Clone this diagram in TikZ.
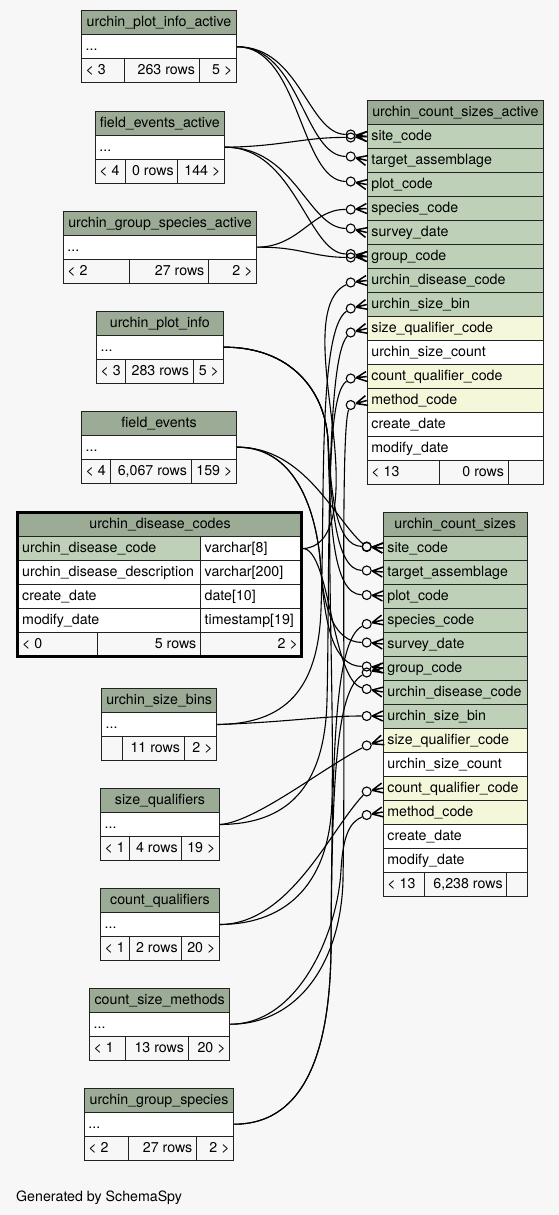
\documentclass[tikz,border=0pt]{standalone}
\usepackage{fontspec}
\setmainfont{TeX Gyre Heros}
\usetikzlibrary{calc}
\definecolor{hdr}{HTML}{9BAB96}
\definecolor{grn}{HTML}{BED1B8}
\definecolor{yel}{HTML}{F4F7DA}
\definecolor{bgc}{HTML}{F7F7F7}
\definecolor{bordc}{HTML}{222222}
\definecolor{ftc}{HTML}{F7F7F7}
\tikzset{
  box/.style={rectangle,draw=bordc,line width=1pt,inner sep=0pt,minimum height=24pt},
  txt/.style={inner sep=0pt,font=\fontsize{14.2}{17}\selectfont,text=black},
  fk/.style={draw=black,line width=1.1pt},
  odot/.style={circle,draw=black,line width=1.1pt,minimum size=9pt,inner sep=0pt},
  crowl/.style={draw=black,line width=1.5pt},
}
\newcommand\cellbox[5]{\node[box,fill=#5,minimum width=#4 pt,anchor=north west] (#1) at (#2,#3) {};}
\newcommand\ltext[2]{\node[txt,anchor=base west] (#1-t) at ([shift={(4.5pt,-4pt)}]#1.west) {#2};}
\newcommand\rtext[2]{\node[txt,anchor=base east] (#1-t) at ([shift={(-4.5pt,-4pt)}]#1.east) {#2};}
\newcommand\ctext[2]{\node[txt,anchor=base] (#1-t) at ([yshift=-4pt]#1.center) {#2};}
\newcommand\stab[9]{%
  \pgfmathsetmacro\sw{#3-#2}\pgfmathsetmacro\wa{#6-#2}\pgfmathsetmacro\wb{#7-#6}\pgfmathsetmacro\wc{#3-#7}%
  \pgfmathsetmacro\ya{#4+24}\pgfmathsetmacro\yb{#4+48}%
  \cellbox{#1-h}{#2}{#4}{\sw}{hdr}\ctext{#1-h}{#5}%
  \cellbox{#1}{#2}{\ya}{\sw}{white}\ltext{#1}{...}%
  \cellbox{#1-fa}{#2}{\yb}{\wa}{ftc}\ltext{#1-fa}{#8}%
  \cellbox{#1-fb}{#6}{\yb}{\wb}{ftc}\rtext{#1-fb}{#9}%
  \cellbox{#1-fc}{#7}{\yb}{\wc}{ftc}\rtext{#1-fc}}
\newcommand\btab[5]{%
  \pgfmathsetmacro\bw{#3-#2}%
  \cellbox{#1-h}{#2}{#4}{\bw}{hdr}\ctext{#1-h}{#5}%
  \foreach \n/\f/\lab [count=\i] in {site/grn/site\_code, target/grn/target\_assemblage, plot/grn/plot\_code, species/grn/species\_code, survey/grn/survey\_date, group/grn/group\_code, disease/grn/urchin\_disease\_code, sizebin/grn/urchin\_size\_bin, sizequal/yel/size\_qualifier\_code, sizecount/white/urchin\_size\_count, countqual/yel/count\_qualifier\_code, method/yel/method\_code, create/white/create\_date, modify/white/modify\_date}{%
    \pgfmathsetmacro\yy{#4+24*\i}%
    \cellbox{#1-\n}{#2}{\yy}{\bw}{\f}\ltext{#1-\n}{\lab}}%
}
\newcommand\crow[4]{%
  \node[odot] (#1) at ($(#2.west)+(#3,#4)$) {};
  \coordinate (#1-p) at (#2.west);
  \coordinate (#1-v) at ($(#1)!5.5pt!(#1-p)$);
  \draw[crowl] (#1-v) -- ($(#1-p)!5pt!90:(#1)$) (#1-v) -- (#1-p) (#1-v) -- ($(#1-p)!5pt!-90:(#1)$);
}
\begin{document}
\begin{tikzpicture}[x=1pt,y=-1pt]
\fill[bgc] (0,0) rectangle (559,1215);
\useasboundingbox (0,0) rectangle (559,1215);

% small tables
\stab{pia}{81}{236}{10.3}{urchin\_plot\_info\_active}{123.7}{198.7}{< 3}{263 rows}{5 >}
\stab{fea}{94.7}{224}{110.7}{field\_events\_active}{125.3}{177.3}{< 4}{0 rows}{144 >}
\stab{gsa}{62.7}{256.3}{210.7}{urchin\_group\_species\_active}{129}{208}{< 2}{27 rows}{2 >}
\stab{pi}{96}{222.7}{310.7}{urchin\_plot\_info}{125.3}{192.7}{< 3}{283 rows}{5 >}
\stab{fe}{81}{236}{410.7}{field\_events}{110.3}{190.7}{< 4}{6,067 rows}{159 >}
\stab{sb}{101}{216.3}{688}{urchin\_size\_bins}{122.3}{183.7}{}{11 rows}{2 >}
\stab{sq}{100}{219}{788}{size\_qualifiers}{129}{181.3}{< 1}{4 rows}{19 >}
\stab{cq}{100}{219}{888}{count\_qualifiers}{129}{181.3}{< 1}{2 rows}{20 >}
\stab{cm}{89}{229.3}{987.7}{count\_size\_methods}{125.3}{187.7}{< 1}{13 rows}{20 >}
\stab{gs}{83.7}{233.3}{1087.7}{urchin\_group\_species}{127.7}{196}{< 2}{27 rows}{2 >}

% urchin_disease_codes
\cellbox{dch}{17.5}{512}{284}{hdr}\ctext{dch}{urchin\_disease\_codes}
\cellbox{dc1a}{17.5}{536}{182.5}{grn}\ltext{dc1a}{urchin\_disease\_code}
\cellbox{dc1b}{200}{536}{101.5}{white}\ltext{dc1b}{varchar[8]}
\cellbox{dc2a}{17.5}{560}{182.5}{white}\ltext{dc2a}{urchin\_disease\_description}
\cellbox{dc2b}{200}{560}{101.5}{white}\ltext{dc2b}{varchar[200]}
\cellbox{dc3a}{17.5}{584}{182.5}{white}\ltext{dc3a}{create\_date}
\cellbox{dc3b}{200}{584}{101.5}{white}\ltext{dc3b}{date[10]}
\cellbox{dc4a}{17.5}{608}{182.5}{white}\ltext{dc4a}{modify\_date}
\cellbox{dc4b}{200}{608}{101.5}{white}\ltext{dc4b}{timestamp[19]}
\cellbox{dcfa}{17.5}{632}{79.8}{ftc}\ltext{dcfa}{< 0}
\cellbox{dcfb}{97.3}{632}{102.7}{ftc}\rtext{dcfb}{5 rows}
\cellbox{dcfc}{200}{632}{101.5}{ftc}\rtext{dcfc}{2 >}
\draw[black,line width=3pt] (17.5,512) rectangle (301.5,656);

% big tables
\btab{a}{366.7}{543}{100}{urchin\_count\_sizes\_active}
\cellbox{a-fa}{366.7}{460}{72}{ftc}\ltext{a-fa}{< 13}
\cellbox{a-fb}{438.7}{460}{69}{ftc}\rtext{a-fb}{0 rows}
\cellbox{a-fc}{507.7}{460}{35.3}{ftc}\rtext{a-fc}{}
\btab{c}{382.7}{526.7}{511.5}{urchin\_count\_sizes}
\cellbox{c-fa}{382.7}{871.5}{41.3}{ftc}\ltext{c-fa}{< 13}
\cellbox{c-fb}{424}{871.5}{82.3}{ftc}\rtext{c-fb}{6,238 rows}
\cellbox{c-fc}{506.3}{871.5}{20.4}{ftc}\rtext{c-fc}{}

% crow's feet with open circles
\crow{oa-site1}{a-site}{-16}{-2}
\crow{oa-site2}{a-site}{-16}{1}
\crow{oa-target}{a-target}{-16}{-4}
\crow{oa-plot}{a-plot}{-16}{-3}
\crow{oa-species}{a-species}{-16}{1}
\crow{oa-survey}{a-survey}{-16}{-4}
\crow{oa-group1}{a-group}{-16}{-2.5}
\crow{oa-group2}{a-group}{-16}{1}
\crow{oa-disease}{a-disease}{-16}{2}
\crow{oa-sizebin}{a-sizebin}{-16}{4}
\crow{oa-sizequal}{a-sizequal}{-16}{4}
\crow{oa-countqual}{a-countqual}{-16}{2}
\crow{oa-method}{a-method}{-16}{4.5}
\crow{oc-site1}{c-site}{-16}{-1.5}
\crow{oc-site2}{c-site}{-16}{-1}
\crow{oc-target}{c-target}{-16}{-1.5}
\crow{oc-plot}{c-plot}{-16}{-1}
\crow{oc-species}{c-species}{-16}{4}
\crow{oc-survey}{c-survey}{-16}{-1.5}
\crow{oc-group1}{c-group}{-16}{-1.5}
\crow{oc-group2}{c-group}{-16}{4.5}
\crow{oc-disease}{c-disease}{-16}{-3}
\crow{oc-sizebin}{c-sizebin}{-16}{0}
\crow{oc-sizequal}{c-sizequal}{-16}{5.5}
\crow{oc-countqual}{c-countqual}{-16}{3.5}
\crow{oc-method}{c-method}{-16}{3}

% connectors to urchin_count_sizes_active
\draw[fk] (pia.east) .. controls (300,46.3) and (308,134) .. (oa-site1);
\draw[fk] (pia.east) .. controls (300,46.3) and (304,156) .. (oa-target);
\draw[fk] (pia.east) .. controls (300,46.3) and (300,181) .. (oa-plot);
\draw[fk] (fea.east) .. controls (280,146.7) and (305,137) .. (oa-site2);
\draw[fk] (fea.east) .. controls (295,146.7) and (308,228) .. (oa-survey);
\draw[fk] (fea.east) .. controls (295,146.7) and (308,253.5) .. (oa-group1);
\draw[fk] (gsa.east) .. controls (300,246.7) and (312,209) .. (oa-species);
\draw[fk] (gsa.east) .. controls (300,246.7) and (312,257) .. (oa-group2);
\draw[fk] (dc1b.east) .. controls (335,548) and (341,500) .. (333,430) .. controls (326,370) and (314,300) .. (oa-disease);
\draw[fk] (sb.east) .. controls (285,724) and (318,690) .. (321,610) .. controls (325,500) and (318,330) .. (oa-sizebin);
\draw[fk] (sq.east) .. controls (285,824) and (325,790) .. (327,700) .. controls (330,580) and (325,360) .. (oa-sizequal);
\draw[fk] (cq.east) .. controls (290,924) and (330,880) .. (332,800) .. controls (335,650) and (318,400) .. (oa-countqual);
\draw[fk] (cm.east) .. controls (300,1024) and (341,960) .. (343,880) .. controls (346,700) and (340,430) .. (oa-method);

% connectors to urchin_count_sizes
\draw[fk] (pi.east) .. controls (290,346.7) and (325,390) .. (328,440) .. controls (331,490) and (335,546) .. (oc-site1);
\draw[fk] (pi.east) .. controls (290,346.7) and (325,390) .. (328,440) .. controls (331,500) and (335,570) .. (oc-target);
\draw[fk] (pi.east) .. controls (290,346.7) and (325,390) .. (328,440) .. controls (330,520) and (332,594) .. (oc-plot);
\draw[fk] (fe.east) .. controls (305,446.7) and (335,520) .. (oc-site2);
\draw[fk] (fe.east) .. controls (300,446.7) and (318,520) .. (321,570) .. controls (324,610) and (335,642) .. (oc-survey);
\draw[fk] (fe.east) .. controls (300,446.7) and (318,520) .. (321,570) .. controls (325,630) and (335,666) .. (oc-group1);
\draw[fk] (gs.east) .. controls (310,1124) and (330,1040) .. (331,950) .. controls (332,760) and (334,640) .. (oc-species);
\draw[fk] (gs.east) .. controls (310,1124) and (330,1040) .. (331,950) .. controls (332,780) and (336,690) .. (oc-group2);
\draw[fk] (dc1b.east) .. controls (330,548) and (332,680) .. (oc-disease);
\draw[fk] (sb.east) .. controls (290,722) and (320,716) .. (oc-sizebin);
\draw[fk] (sq.east) .. controls (255,822) and (320,770) .. (oc-sizequal);
\draw[fk] (cq.east) .. controls (290,924) and (330,830) .. (oc-countqual);
\draw[fk] (cm.east) .. controls (300,1024) and (338,930) .. (341,870) .. controls (343,835) and (350,822) .. (oc-method);

\node[txt,anchor=base west] (gen) at (16,1201) {Generated by SchemaSpy};
\end{tikzpicture}
\end{document}
